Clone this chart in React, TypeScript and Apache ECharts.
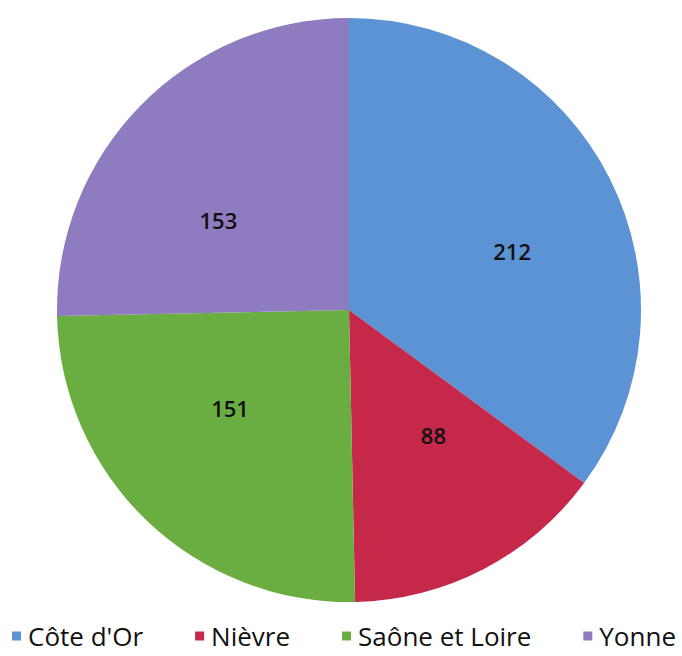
import React, { useEffect, useRef } from "react";
import * as echarts from "echarts";

const categories = ["Côte d'Or", "Nièvre", "Saône et Loire", "Yonne"];
const values = [212, 88, 151, 153];
const colors = ["#5B93D5", "#C6284A", "#6AAE42", "#8F7BBF"];

// small label nudges (styling only) to mimic the original "best fit" placement
const labelNudges = [
  [15, 16],
  [8, -22],
  [-4, -22],
  [-12, 26],
];

export default function App() {
  const ref = useRef<HTMLDivElement>(null);
  useEffect(() => {
    if (!ref.current) return;
    const chart = echarts.init(ref.current, null, { renderer: "svg" });
    const data = categories.map((c, i) => ({ name: c, value: values[i] }));
    const labelData = categories.map((c, i) => ({
      name: c,
      value: values[i],
      label: { offset: labelNudges[i] },
    }));
    chart.setOption({
      animation: false,
      backgroundColor: "#ffffff",
      color: colors,
      legend: {
        data: categories,
        left: 12,
        top: 623,
        width: 675,
        padding: 0,
        icon: "rect",
        itemWidth: 9,
        itemHeight: 9,
        itemGap: 52,
        textStyle: { fontFamily: "Open Sans", fontSize: 26, color: "#111", padding: [6, 0, 0, 2] },
      },
      series: [
        {
          type: "pie",
          center: [349, 310],
          radius: [0, 292],
          startAngle: 90,
          clockwise: true,
          data,
          label: { show: false },
          labelLine: { show: false },
          itemStyle: { borderWidth: 0 },
          emphasis: { disabled: true },
        },
        {
          type: "pie",
          center: [349, 310],
          radius: [34, 292],
          startAngle: 90,
          clockwise: true,
          silent: true,
          legendHoverLink: false,
          data: labelData,
          itemStyle: { color: "rgba(0,0,0,0)", borderWidth: 0 },
          label: {
            show: true,
            position: "inside",
            formatter: "{c}",
            fontFamily: "Open Sans",
            fontSize: 22,
            fontWeight: 600,
            color: "#111",
          },
          labelLine: { show: false },
          emphasis: { disabled: true },
        },
      ],
    });
    return () => chart.dispose();
  }, []);
  return (
    <div
      ref={ref}
      style={{ position: "fixed", left: 0, top: 0, width: 682, height: 656 }}
    />
  );
}
